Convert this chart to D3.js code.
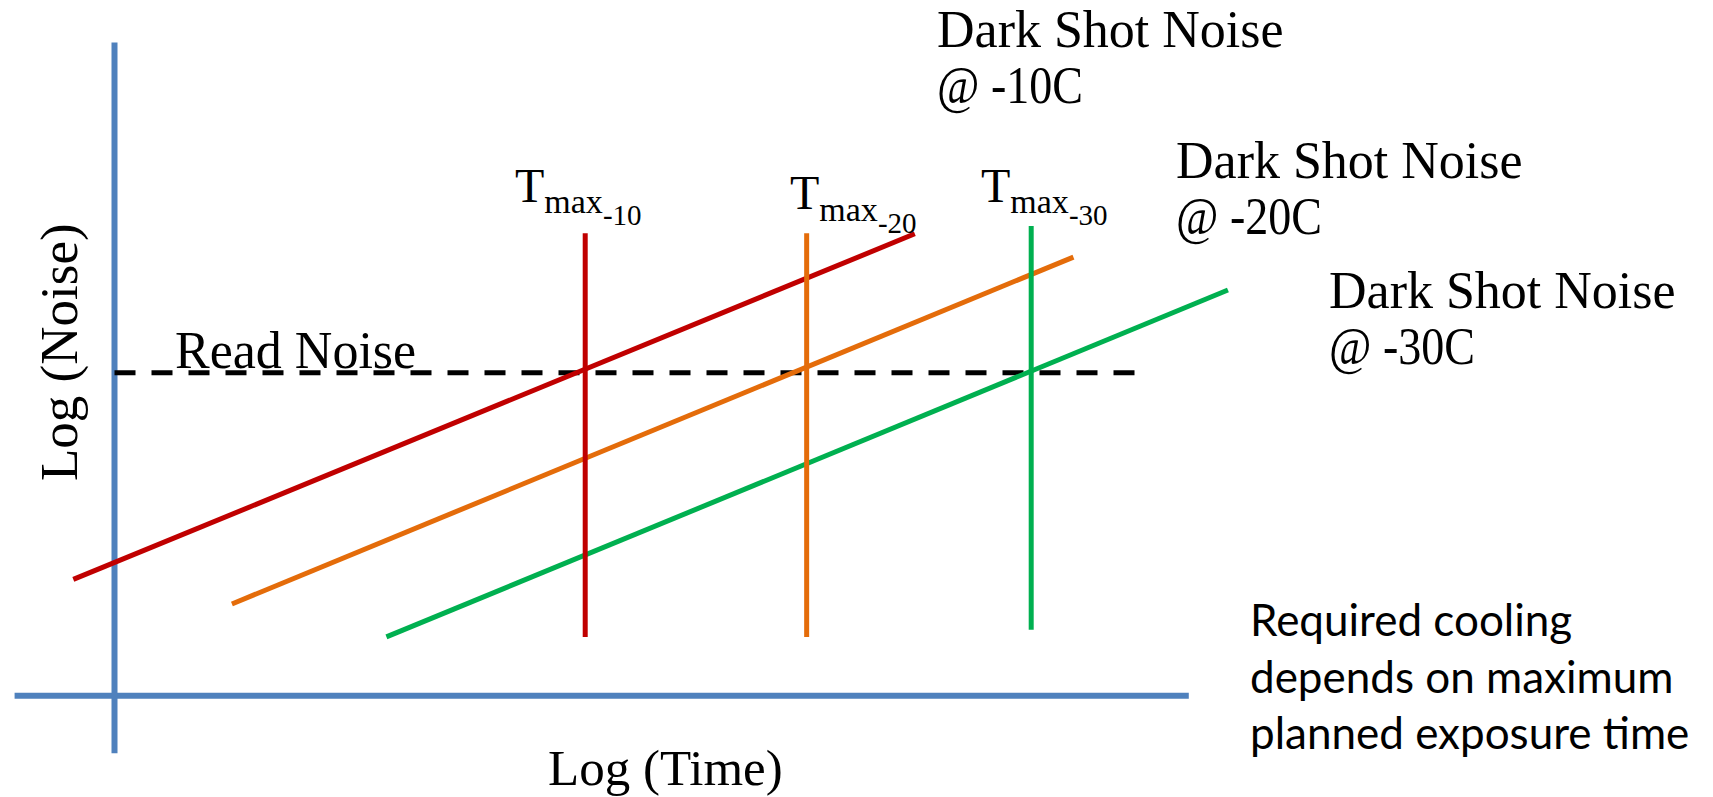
<!DOCTYPE html>
<html>
<head>
<meta charset="utf-8">
<script src="https://cdn.jsdelivr.net/npm/d3@7"></script>
<style>
  html, body { margin: 0; padding: 0; background: #fff; }
  svg { display: block; }
</style>
</head>
<body>
<script>
// ---- Data (abstract log units) ----
const seriesNames = ["-10C", "-20C", "-30C"];
const seriesColors = ["#C00000", "#E46C0A", "#00B050"];
// Dark shot noise lines: [x, y] endpoints in log(time), log(noise) units
const darkNoise10 = [[-4, 18], [77.7, 71.5]];
const darkNoise20 = [[11.4, 14.2], [93.1, 67.9]];
const darkNoise30 = [[26.4, 9.1], [108.1, 62.8]];
// Tmax vertical markers: x position, y bottom, y top
const tmaxX = [45.7, 67.2, 89.0];
const tmaxYBottom = [9.1, 9.1, 10.2];
const tmaxYTop = [71.6, 71.6, 72.7];
const tmaxSub = ["-10", "-20", "-30"];
// Read noise level
const readNoiseLevel = 50;
const readNoiseXRange = [0, 100];
// Axis extents
const xAxisRange = [-9.7, 104.3];
const yAxisRange = [-8.9, 101.1];

const W = 1713, H = 797;
const svg = d3.select("body").append("svg").attr("width", W).attr("height", H);

const x = d3.scaleLinear().domain([0, 100]).range([114.5, 1144.5]);
const y = d3.scaleLinear().domain([0, 50]).range([695.7, 372.7]);

const serif = "'Liberation Serif', 'Times New Roman', serif";
const sans = "Lato, 'Liberation Sans', sans-serif";
const axisBlue = "#4F81BD";

// Axes
svg.append("line")
  .attr("x1", x(xAxisRange[0])).attr("x2", x(xAxisRange[1]))
  .attr("y1", y(0)).attr("y2", y(0))
  .attr("stroke", axisBlue).attr("stroke-width", 6);
svg.append("line")
  .attr("x1", x(0)).attr("x2", x(0))
  .attr("y1", y(yAxisRange[0])).attr("y2", y(yAxisRange[1]))
  .attr("stroke", axisBlue).attr("stroke-width", 6);

// Read noise dashed line
svg.append("line")
  .attr("x1", x(readNoiseXRange[0])).attr("x2", x(readNoiseXRange[1]))
  .attr("y1", y(readNoiseLevel)).attr("y2", y(readNoiseLevel))
  .attr("stroke", "#000").attr("stroke-width", 5)
  .attr("stroke-dasharray", "21,16");

// Dark noise lines
const lineGen = d3.line().x(d => x(d[0])).y(d => y(d[1]));
[darkNoise10, darkNoise20, darkNoise30].forEach((pts, i) => {
  svg.append("path").attr("d", lineGen(pts))
    .attr("fill", "none").attr("stroke", seriesColors[i]).attr("stroke-width", 5);
});

// Tmax verticals
tmaxX.forEach((tx, i) => {
  svg.append("line")
    .attr("x1", x(tx)).attr("x2", x(tx))
    .attr("y1", y(tmaxYBottom[i])).attr("y2", y(tmaxYTop[i]))
    .attr("stroke", seriesColors[i]).attr("stroke-width", 5);
});

// Tmax labels
const tmaxLabelPos = [[515, 201.7], [790, 209], [981, 201.7]];
tmaxLabelPos.forEach((p, i) => {
  const t = svg.append("text").attr("x", p[0]).attr("y", p[1])
    .attr("font-family", serif).attr("fill", "#000");
  t.append("tspan").attr("font-size", 48).text("T");
  t.append("tspan").attr("font-size", 34).attr("dy", 11.5).text("max");
  t.append("tspan").attr("font-size", 29).attr("dy", 12).text(tmaxSub[i]);
});

// Read Noise label
svg.append("text").attr("x", 175).attr("y", 368)
  .attr("font-family", serif).attr("font-size", 52).text("Read Noise");

// Dark Shot Noise labels
const dsnPos = [[937, 47], [1176, 178], [1329, 308]];
dsnPos.forEach((p, i) => {
  const t = svg.append("text").attr("font-family", serif).attr("font-size", 52).attr("fill", "#000");
  t.append("tspan").attr("x", p[0]).attr("y", p[1]).text("Dark Shot Noise");
  t.append("tspan").attr("x", p[0]).attr("y", p[1] + 56)
    .attr("textLength", 146).attr("lengthAdjust", "spacingAndGlyphs")
    .text("@ " + seriesNames[i]);
});

// Axis titles
svg.append("text").attr("x", 548).attr("y", 785)
  .attr("font-family", serif).attr("font-size", 51).text("Log (Time)");
svg.append("text")
  .attr("transform", "translate(77,481) rotate(-90)")
  .attr("font-family", serif).attr("font-size", 53).text("Log (Noise)");

// Note
const note = ["Required cooling", "depends on maximum", "planned exposure time"];
const nt = svg.append("text").attr("font-family", sans).attr("font-size", 44).attr("fill", "#000");
note.forEach((s, i) => {
  nt.append("tspan").attr("x", 1250).attr("y", 636 + i * 56.5).text(s);
});
</script>
</body>
</html>
